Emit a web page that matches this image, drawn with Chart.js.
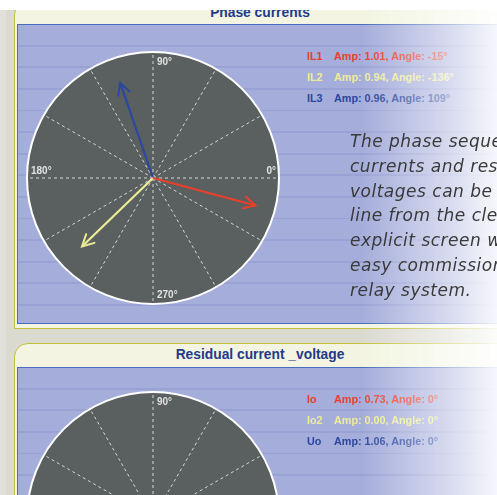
<!DOCTYPE html>
<html>
<head>
<meta charset="utf-8">
<script src="https://cdn.jsdelivr.net/npm/chart.js@4/dist/chart.umd.min.js"></script>
<style>
  html, body { margin: 0; padding: 0; }
  body {
    width: 497px; height: 495px; overflow: hidden; position: relative;
    background: #dadad0;
    font-family: "Liberation Sans", Arial, sans-serif;
  }
  .abs { position: absolute; }
  .strip { left: 0; top: 0; width: 6px; height: 495px; background: #e2e0da; }
  .frame {
    left: 14px; width: 620px;
    background: #f3f5e2;
    border: 1.5px solid #c2c23a;
    border-top-left-radius: 14px;
  }
  .inner {
    left: 17px; width: 620px;
    border: 1.5px solid #4a6cbc;
    background: repeating-linear-gradient(to bottom,
      #a5addb 0px, #a5addb 19.8px, #99a2d4 19.8px, #99a2d4 21.6px);
  }
  .title {
    left: 60px; width: 400px; text-align: center;
    font-weight: bold; font-size: 13.8px; line-height: 16px;
    color: #23398c;
  }
  .legend-row {
    font-weight: bold; font-size: 10.8px; line-height: 12px; white-space: nowrap;
  }
  .legend-row span.name { position: absolute; left: 0; }
  .legend-row span.val { position: absolute; left: 27px; }
  canvas { position: absolute; }
  .fade {
    left: 0; top: 0; width: 497px; height: 495px;
    background: linear-gradient(to right,
      rgba(255,255,255,0) 0px, rgba(255,255,255,0) 360px,
      rgba(255,255,255,0.57) 450px, rgba(255,255,255,0.9) 497px);
  }
  .note {
    left: 350px; top: 129px; white-space: pre;
    font-family: "DejaVu Sans", sans-serif; font-style: italic;
    font-size: 17px; line-height: 24.8px; letter-spacing: 0.5px;
    color: #3a3a3a;
  }
  .topband { left: 0; top: 0; width: 497px; height: 10px; background: #ffffff; }
</style>
</head>
<body>
<div class="abs strip"></div>

<div class="abs frame" style="top:1px; height:326px;"></div>
<div class="abs inner" style="top:24px; height:298px;"></div>
<div class="abs title" style="top:5px;">Phase currents</div>

<div class="abs frame" style="top:343px; height:300px;"></div>
<div class="abs inner" style="top:367px; height:300px;"></div>
<div class="abs title" style="top:347px;">Residual current _voltage</div>

<canvas id="phaseChart" width="272" height="272" style="left:17px; top:42px;"></canvas>
<canvas id="residChart" width="272" height="272" style="left:17px; top:382px;"></canvas>

<div id="phaseLegend"></div>
<div id="residLegend"></div>

<div class="abs fade"></div>
<div class="abs note">The phase sequence
currents and residual
voltages can be
line from the clear
explicit screen which
easy commissioning
relay system.</div>
<div class="abs topband"></div>

<script>
// Polar axis
const AXIS_MAX = 1.2;
const SPOKE_ANGLES = [0, 30, 60, 90, 120, 150, 180, 210, 240, 270, 300, 330];
const AXIS_LABEL_ANGLES = [0, 90, 180, 270];
const AXIS_LABELS = ['0°', '90°', '180°', '270°'];

// Phase currents
const PHASE_NAMES = ['IL1', 'IL2', 'IL3'];
const PHASE_AMPS = [1.01, 0.94, 0.96];
const PHASE_ANGLES = [-15, -136, 109];

// Residual current / voltage
const RESID_NAMES = ['Io', 'Io2', 'Uo'];
const RESID_AMPS = [0.73, 0.00, 1.06];
const RESID_ANGLES = [0, 0, 0];

const SERIES_COLORS = ['#e8402c', '#ecec98', '#2b47a0'];

const toRad = deg => deg * Math.PI / 180;

// Dark disc, dashed spokes and degree labels
const polarGrid = {
    id: 'polarGrid',
    beforeDatasetsDraw(chart) {
        const ctx = chart.ctx;
        const xs = chart.scales.x, ys = chart.scales.y;
        const cx = xs.getPixelForValue(0);
        const cy = ys.getPixelForValue(0);
        const r = xs.getPixelForValue(AXIS_MAX) - cx;

        ctx.save();
        ctx.beginPath();
        ctx.arc(cx, cy, r, 0, Math.PI * 2);
        ctx.fillStyle = '#5a605f';
        ctx.fill();

        ctx.setLineDash([3, 3]);
        ctx.strokeStyle = '#d4d6d6';
        ctx.lineWidth = 1;
        SPOKE_ANGLES.forEach(a => {
            const px = xs.getPixelForValue(AXIS_MAX * Math.cos(toRad(a)));
            const py = ys.getPixelForValue(AXIS_MAX * Math.sin(toRad(a)));
            ctx.beginPath();
            ctx.moveTo(cx, cy);
            ctx.lineTo(px, py);
            ctx.stroke();
        });
        ctx.setLineDash([]);

        ctx.beginPath();
        ctx.arc(cx, cy, r, 0, Math.PI * 2);
        ctx.strokeStyle = '#ffffff';
        ctx.lineWidth = 2;
        ctx.stroke();

        ctx.font = 'bold 10px "Liberation Sans", Arial, sans-serif';
        ctx.fillStyle = '#e2e2e2';
        ctx.textBaseline = 'alphabetic';
        AXIS_LABEL_ANGLES.forEach((a, i) => {
            const text = AXIS_LABELS[i];
            if (a === 0) {
                ctx.textAlign = 'right';
                ctx.fillText(text, cx + r - 3, cy - 4);
            } else if (a === 180) {
                ctx.textAlign = 'left';
                ctx.fillText(text, cx - r + 4, cy - 4);
            } else if (a === 90) {
                ctx.textAlign = 'left';
                ctx.fillText(text, cx + 4, cy - r + 13);
            } else {
                ctx.textAlign = 'left';
                ctx.fillText(text, cx + 4, cy + r - 6);
            }
        });
        ctx.restore();
    }
};

// Open arrow heads at the end of each phasor
const arrowHeads = {
    id: 'arrowHeads',
    afterDatasetsDraw(chart) {
        const ctx = chart.ctx;
        chart.data.datasets.forEach((ds, i) => {
            const pts = chart.getDatasetMeta(i).data;
            if (pts.length < 2) return;
            const sx = pts[0].x, sy = pts[0].y;
            const ex = pts[1].x, ey = pts[1].y;
            if (Math.hypot(ex - sx, ey - sy) < 1) return;
            const ang = Math.atan2(ey - sy, ex - sx);
            const len = 13, spread = 0.48;
            ctx.save();
            ctx.strokeStyle = ds.borderColor;
            ctx.lineWidth = 2;
            ctx.lineCap = 'round';
            ctx.beginPath();
            ctx.moveTo(ex - len * Math.cos(ang - spread), ey - len * Math.sin(ang - spread));
            ctx.lineTo(ex, ey);
            ctx.lineTo(ex - len * Math.cos(ang + spread), ey - len * Math.sin(ang + spread));
            ctx.stroke();
            ctx.restore();
        });
    }
};

// Create phasor chart
function renderPhasors(canvasId, names, amps, angles) {
    const datasets = names.map((name, i) => ({
        label: name,
        data: [
            { x: 0, y: 0 },
            { x: amps[i] * Math.cos(toRad(angles[i])), y: amps[i] * Math.sin(toRad(angles[i])) }
        ],
        showLine: true,
        borderColor: SERIES_COLORS[i],
        borderWidth: 2.2,
        pointRadius: 0,
        clip: false
    }));

    return new Chart(document.getElementById(canvasId), {
        type: 'scatter',
        data: { datasets },
        options: {
            responsive: false,
            animation: false,
            layout: { padding: 10 },
            scales: {
                x: { type: 'linear', min: -AXIS_MAX, max: AXIS_MAX, display: false },
                y: { type: 'linear', min: -AXIS_MAX, max: AXIS_MAX, display: false }
            },
            plugins: {
                legend: { display: false },
                tooltip: { enabled: false }
            }
        },
        plugins: [polarGrid, arrowHeads]
    });
}

// Render the value rows next to a chart
function renderLegend(containerId, names, amps, angles, firstBaseline) {
    const container = document.getElementById(containerId);
    names.forEach((name, i) => {
        const row = document.createElement('div');
        row.className = 'abs legend-row';
        row.style.left = '307px';
        row.style.top = (firstBaseline + i * 21 - 9.8) + 'px';
        row.style.color = SERIES_COLORS[i];

        const nameSpan = document.createElement('span');
        nameSpan.className = 'name';
        nameSpan.textContent = name;

        const valSpan = document.createElement('span');
        valSpan.className = 'val';
        valSpan.textContent = 'Amp: ' + amps[i].toFixed(2) + ', Angle: ' + angles[i] + '°';

        row.appendChild(nameSpan);
        row.appendChild(valSpan);
        container.appendChild(row);
    });
}

renderPhasors('phaseChart', PHASE_NAMES, PHASE_AMPS, PHASE_ANGLES);
renderPhasors('residChart', RESID_NAMES, RESID_AMPS, RESID_ANGLES);
renderLegend('phaseLegend', PHASE_NAMES, PHASE_AMPS, PHASE_ANGLES, 60);
renderLegend('residLegend', RESID_NAMES, RESID_AMPS, RESID_ANGLES, 403);
</script>
</body>
</html>
